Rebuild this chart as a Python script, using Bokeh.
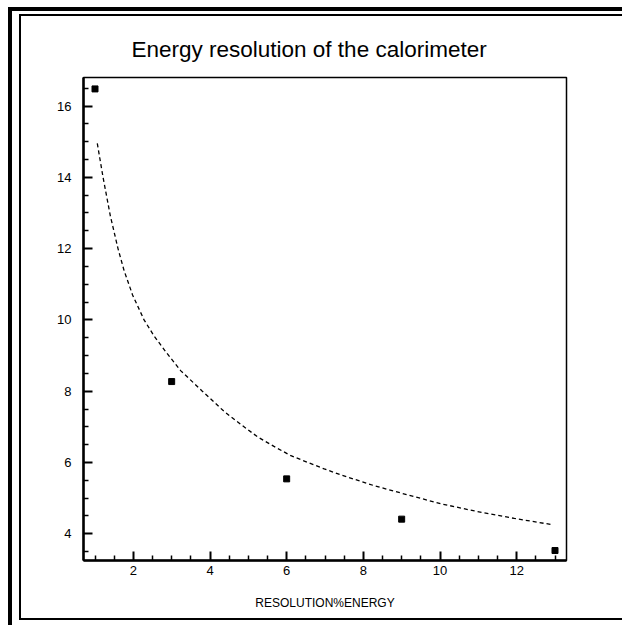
from bokeh.plotting import figure
from bokeh.models import Range1d, FixedTicker
from bokeh.embed import file_html
from bokeh.resources import INLINE

# ---- data ----
energy = [1, 3, 6, 9, 13]
resolution = [16.48, 8.27, 5.54, 4.41, 3.53]

fit_x = [1.06, 1.21, 1.40, 1.60, 1.76, 1.98, 2.28, 2.54, 2.85, 3.24, 3.80,
         4.37, 4.80, 5.24, 5.67, 6.11, 6.98, 7.42, 8.28, 9.16, 10.03, 10.9,
         11.94, 12.9]
fit_y = [14.95, 14.0, 12.92, 12.0, 11.38, 10.7, 10.0, 9.55, 9.10, 8.57, 8.0,
         7.43, 7.07, 6.72, 6.45, 6.19, 5.82, 5.65, 5.35, 5.09, 4.84, 4.64,
         4.43, 4.26]

x_ticks = [2, 4, 6, 8, 10, 12]
x_minor = [1.0, 1.5, 2.5, 3.0, 3.5, 4.5, 5.0, 5.5, 6.5, 7.0, 7.5, 8.5, 9.0,
           9.5, 10.5, 11.0, 11.5, 12.5, 13.0]
y_ticks = [4, 6, 8, 10, 12, 14, 16]
y_minor = [3.5, 4.5, 5.0, 5.5, 6.5, 7.0, 7.5, 8.5, 9.0, 9.5, 10.5, 11.0, 11.5,
           12.5, 13.0, 13.5, 14.5, 15.0, 15.5, 16.5]

title_text = "Energy resolution of the calorimeter"
x_title = "RESOLUTION%ENERGY"

W, H = 622, 625
FONT = "Liberation Sans"

p = figure(width=W, height=H, output_backend="svg", toolbar_location=None,
           x_range=Range1d(0.7, 13.3), y_range=Range1d(3.25, 16.8),
           min_border_left=83, min_border_right=56,
           min_border_top=77, min_border_bottom=65,
           title=title_text)
p.title.text_font = FONT
p.title.text_font_size = "22.5px"
p.title.text_font_style = "normal"
p.title.text_color = "black"
p.title.align = "left"
p.title.offset = 48
p.title.standoff = 32

# page frame drawn as the page background behind a transparent border area
bars = [
    (8, 7, 614, 4),      # thick top bar
    (8, 7, 4, 618),      # thick left bar
    (19, 14, 603, 2),    # thin inner frame, top
    (19, 14, 2, 606),    # thin inner frame, left
    (19, 618, 603, 2),   # thin inner frame, bottom
]
p.styles = {"background": ", ".join(
    f"linear-gradient(#000, #000) {l}px {t}px / {w}px {h}px no-repeat"
    for (l, t, w, h) in bars) + ", #fff"}

p.background_fill_color = "white"
p.border_fill_alpha = 0
p.grid.visible = False
p.outline_line_color = "black"
p.outline_line_width = 1.5

for ax, ticks, minor in ((p.xaxis[0], x_ticks, x_minor), (p.yaxis[0], y_ticks, y_minor)):
    ax.ticker = FixedTicker(ticks=ticks, minor_ticks=minor)
    ax.axis_line_width = 2.5
    ax.major_tick_line_width = 2
    ax.minor_tick_line_width = 1.5
    ax.major_tick_in = 9
    ax.major_tick_out = 0
    ax.minor_tick_in = 5
    ax.minor_tick_out = 0
    ax.major_label_text_font = FONT
    ax.major_label_text_font_size = "13px"
    ax.major_label_text_color = "black"

p.xaxis.major_label_standoff = 5
p.yaxis.major_label_standoff = 12
p.xaxis.axis_label = x_title
p.xaxis.axis_label_text_font = FONT
p.xaxis.axis_label_text_font_size = "12px"
p.xaxis.axis_label_text_font_style = "normal"
p.xaxis.axis_label_text_color = "black"
p.xaxis.axis_label_standoff = 18

# fitted curve and measured points
p.line(fit_x, fit_y, line_color="black", line_width=1.3, line_dash="4 3")
p.scatter(energy, resolution, marker="square", size=6, color="black")

open("out.html", "w").write(file_html(p, INLINE))
